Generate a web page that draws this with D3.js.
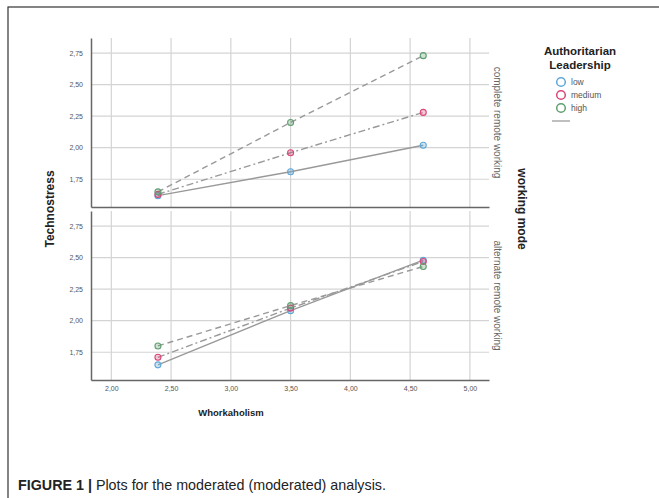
<!DOCTYPE html>
<html>
<head>
<meta charset="utf-8">
<script src="https://cdn.jsdelivr.net/npm/d3@7/dist/d3.min.js"></script>
<style>
body { margin: 0; background: #fff; }
text { font-family: "Liberation Sans", Arial, sans-serif; }
</style>
</head>
<body>
<div id="container"></div>
<script>
var width = 659;
var height = 498;

// data
var xValues = [2.39, 3.50, 4.61];
var levels = ["low", "medium", "high"];
var modes = ["complete remote working", "alternate remote working"];
var completeLow = [1.62, 1.81, 2.02];
var completeMedium = [1.63, 1.96, 2.28];
var completeHigh = [1.65, 2.20, 2.73];
var alternateLow = [1.65, 2.08, 2.48];
var alternateMedium = [1.71, 2.10, 2.47];
var alternateHigh = [1.80, 2.12, 2.43];
var xTicks = [2.00, 2.50, 3.00, 3.50, 4.00, 4.50, 5.00];
var yTicks = [1.75, 2.00, 2.25, 2.50, 2.75];

var panelData = [
    [completeLow, completeMedium, completeHigh],
    [alternateLow, alternateMedium, alternateHigh]
];

var colors = d3.scaleOrdinal().domain(levels).range(["#5fa8d8", "#d9467a", "#5f9f6f"]);
var dashes = d3.scaleOrdinal().domain(levels).range(["none", "7,3,2,3", "6,4"]);

var svg = d3.select('#container').append('svg').attr('width', width).attr('height', height);

// outer frame (only left and top show)
svg.append('rect').attr('x', 8).attr('y', 7).attr('width', 700).attr('height', 600)
    .attr('fill', 'none').attr('stroke', '#333').attr('stroke-width', 1.2);

var xScale = d3.scaleLinear().domain([1.83, 5.16]).range([91, 489]);
var panelRanges = [[207, 38], [380, 211]];
var fmt = function(d){ return d3.format('.2f')(d).replace('.', ','); };

panelData.forEach(function(series, p){
    var yScale = d3.scaleLinear().domain([1.53, 2.87]).range(panelRanges[p]);
    var g = svg.append('g');

    // gridlines
    g.selectAll('.hgrid').data(yTicks).enter().append('line')
        .attr('x1', xScale.range()[0]).attr('x2', xScale.range()[1])
        .attr('y1', function(d){ return yScale(d); })
        .attr('y2', function(d){ return yScale(d); })
        .attr('stroke', '#d4d4d4').attr('stroke-width', 1.2);
    g.selectAll('.vgrid').data(xTicks).enter().append('line')
        .attr('x1', function(d){ return xScale(d); })
        .attr('x2', function(d){ return xScale(d); })
        .attr('y1', yScale.range()[0]).attr('y2', yScale.range()[1])
        .attr('stroke', '#d4d4d4').attr('stroke-width', 1.2);

    // axes
    var yAxis = g.append('g').attr('transform', 'translate(' + xScale.range()[0] + ',0)')
        .call(d3.axisLeft(yScale).tickValues(yTicks).tickFormat(fmt).tickSize(0).tickPadding(8));
    yAxis.select('.domain').attr('stroke', '#666').attr('stroke-width', 1.5);
    yAxis.selectAll('text').attr('font-size', 7).attr('fill', '#555');

    var xAxis = g.append('g').attr('transform', 'translate(0,' + yScale.range()[0] + ')')
        .call(d3.axisBottom(xScale).tickValues(xTicks).tickFormat(fmt).tickSize(0).tickPadding(6));
    xAxis.select('.domain').attr('stroke', '#666').attr('stroke-width', 1.5);
    if (p === 0) {
        xAxis.selectAll('text').remove();
    } else {
        xAxis.selectAll('text').attr('font-size', 7).attr('fill', '#555');
    }

    // lines
    var line = d3.line()
        .x(function(d, i){ return xScale(xValues[i]); })
        .y(function(d){ return yScale(d); });

    g.selectAll('.series').data(series).enter().append('path')
        .attr('d', function(d){ return line(d); })
        .attr('fill', 'none')
        .attr('stroke', '#999')
        .attr('stroke-width', 1.4)
        .attr('stroke-dasharray', function(d, i){ return dashes(levels[i]); });

    series.forEach(function(vals, i){
        g.selectAll('.pt' + i).data(vals).enter().append('circle')
            .attr('cx', function(d, j){ return xScale(xValues[j]); })
            .attr('cy', function(d){ return yScale(d); })
            .attr('r', 3)
            .attr('fill', colors(levels[i])).attr('fill-opacity', 0.3)
            .attr('stroke', colors(levels[i])).attr('stroke-width', 1.1);
    });

    // strip label
    var cy = (panelRanges[p][0] + panelRanges[p][1]) / 2;
    svg.append('text')
        .attr('transform', 'translate(497,' + cy + ') rotate(90)')
        .attr('text-anchor', 'middle').attr('dy', '0.35em')
        .attr('font-size', 10).attr('fill', '#666')
        .text(modes[p]);
});

// axis titles
svg.append('text')
    .attr('transform', 'translate(50,209) rotate(-90)')
    .attr('text-anchor', 'middle').attr('dy', '0.35em')
    .attr('font-size', 12).attr('font-weight', 'bold').attr('fill', '#222')
    .text('Technostress');

svg.append('text')
    .attr('x', 231).attr('y', 413).attr('dy', '0.35em')
    .attr('text-anchor', 'middle')
    .attr('font-size', 9.5).attr('font-weight', 'bold').attr('fill', '#222')
    .text('Whorkaholism');

svg.append('text')
    .attr('transform', 'translate(522,209) rotate(90)')
    .attr('text-anchor', 'middle').attr('dy', '0.35em')
    .attr('font-size', 12).attr('font-weight', 'bold').attr('fill', '#222')
    .text('working mode');

// legend
var legend = svg.append('g');
legend.append('text').attr('x', 580).attr('y', 55)
    .attr('text-anchor', 'middle').attr('font-size', 11.5).attr('font-weight', 'bold').attr('fill', '#222')
    .text('Authoritarian');
legend.append('text').attr('x', 580).attr('y', 69)
    .attr('text-anchor', 'middle').attr('font-size', 11.5).attr('font-weight', 'bold').attr('fill', '#222')
    .text('Leadership');

var items = legend.selectAll('.item').data(levels).enter().append('g')
    .attr('transform', function(d, i){ return 'translate(561,' + (82 + i * 13) + ')'; });
items.append('circle').attr('r', 4.3)
    .attr('fill', 'none').attr('stroke', function(d){ return colors(d); }).attr('stroke-width', 1.5);
items.append('text').attr('x', 10).attr('dy', '0.35em')
    .attr('font-size', 8.5).attr('fill', '#555')
    .text(function(d){ return d; });
legend.append('line').attr('x1', 552).attr('x2', 570).attr('y1', 121).attr('y2', 121)
    .attr('stroke', '#aaa').attr('stroke-width', 1.5);

// caption
var caption = svg.append('text').attr('x', 18).attr('y', 490)
    .attr('font-size', 14.3).attr('fill', '#222');
caption.append('tspan').attr('font-weight', 'bold').text('FIGURE 1 | ');
caption.append('tspan').text('Plots for the moderated (moderated) analysis.');
</script>
</body>
</html>
